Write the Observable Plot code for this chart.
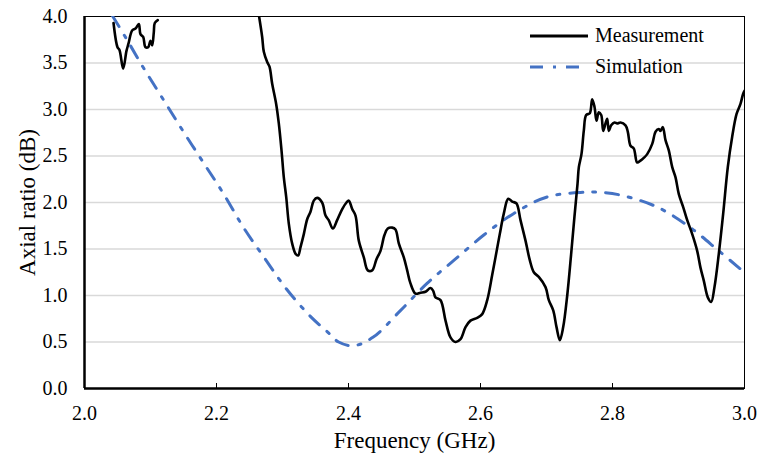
<!DOCTYPE html>
<html>
<head>
<meta charset="utf-8">
<script src="https://cdn.jsdelivr.net/npm/d3@7"></script>
<script src="https://cdn.jsdelivr.net/npm/@observablehq/plot@0.6"></script>
<style>
  body { margin: 0; background: #fff; }
  #wrap { position: relative; width: 757px; height: 458px; font-family: "Liberation Serif", "Times New Roman", serif; }
  #legend { position: absolute; left: 528px; top: 20px; font-size: 20px; color: #000; }
  #legend .row { display: flex; align-items: center; height: 31px; }
  #legend svg { width: 62px; height: 10px; margin-right: 5px; }
</style>
</head>
<body>
<div id="wrap"></div>
<script>
// Frequency (GHz) and axial ratio (dB) of the measured curve (NaN = off-scale gap)
const measFreq = [
  2.044, 2.050, 2.053, 2.0586, 2.0636, 2.0667, 2.0722, 2.0773, 2.0823, 2.0848, 2.0889, 2.0924, 2.0965, 2.100, 2.1026, 2.105, 2.1065, 2.111,
  2.18,
  2.2641, 2.2692, 2.2717, 2.2768, 2.2803, 2.2843, 2.2904, 2.2944, 2.2985, 2.302, 2.3056, 2.3096, 2.3146, 2.3197, 2.3237, 2.3273, 2.3323,
  2.3374, 2.3424, 2.3474, 2.3525, 2.360, 2.3652, 2.370, 2.3763, 2.3828, 2.3905, 2.397, 2.4005, 2.4056, 2.4106, 2.4156, 2.4232, 2.4292,
  2.4359, 2.4424, 2.4485, 2.4545, 2.4595, 2.4662, 2.4712, 2.4762, 2.4838, 2.4889, 2.4939, 2.5015, 2.5091, 2.5167, 2.5242, 2.5283, 2.5318,
  2.5394, 2.547, 2.5545, 2.5621, 2.5697, 2.5773, 2.5848, 2.595, 2.6026, 2.6102, 2.6177, 2.6227, 2.6292, 2.6353, 2.6420, 2.648, 2.6545,
  2.6606, 2.6682, 2.6747, 2.6808, 2.6883, 2.6985, 2.7035, 2.7102, 2.7152, 2.7202, 2.7253, 2.7314, 2.7374, 2.7424, 2.7470, 2.7490, 2.7530,
  2.7565, 2.7601, 2.7656, 2.7692, 2.7727, 2.7758, 2.7792, 2.7829, 2.7859, 2.7894, 2.7920, 2.7944, 2.7980, 2.8030, 2.8071, 2.8121, 2.8197,
  2.8232, 2.8273, 2.8323, 2.8374, 2.8424, 2.8474, 2.8526, 2.8602, 2.8652, 2.8702, 2.8727, 2.8762, 2.8803, 2.8853, 2.8905, 2.8955, 2.9005,
  2.9071, 2.9132, 2.9208, 2.9283, 2.9333, 2.9383, 2.9444, 2.9495, 2.9545, 2.9611, 2.9677, 2.9747, 2.9814, 2.9879, 2.9939, 2.9980, 3.000
];
const measAR = [
  3.93, 3.67, 3.64, 3.44, 3.63, 3.71, 3.85, 3.87, 3.92, 3.81, 3.78, 3.67, 3.67, 3.74, 3.69, 3.83, 3.93, 3.96,
  NaN,
  4.02, 3.78, 3.62, 3.51, 3.46, 3.28, 3.06, 2.85, 2.56, 2.27, 2.06, 1.77, 1.56, 1.45, 1.43, 1.52, 1.66,
  1.82, 1.90, 2.02, 2.05, 2.00, 1.86, 1.81, 1.72, 1.81, 1.93, 2.00, 2.02, 1.93, 1.86, 1.59, 1.41, 1.27,
  1.27, 1.39, 1.48, 1.65, 1.72, 1.73, 1.71, 1.56, 1.41, 1.27, 1.13, 1.02, 1.03, 1.04, 1.08, 1.05, 0.98,
  0.95, 0.73, 0.55, 0.50, 0.53, 0.66, 0.73, 0.76, 0.80, 0.95, 1.22, 1.41, 1.66, 1.88, 2.04, 2.01, 1.99,
  1.81, 1.59, 1.38, 1.25, 1.20, 1.09, 0.95, 0.84, 0.66, 0.52, 0.66, 1.00, 1.45, 1.85, 2.20, 2.38, 2.52,
  2.77, 2.94, 2.96, 3.11, 3.03, 2.88, 2.97, 2.94, 2.77, 2.85, 2.90, 2.77, 2.83, 2.86, 2.85, 2.86, 2.83,
  2.76, 2.61, 2.58, 2.43, 2.45, 2.48, 2.52, 2.63, 2.76, 2.79, 2.77, 2.81, 2.67, 2.56, 2.38, 2.27, 2.09,
  1.95, 1.81, 1.66, 1.48, 1.30, 1.16, 0.98, 0.93, 1.09, 1.45, 1.88, 2.38, 2.71, 2.95, 3.06, 3.17, 3.20
];
// Simulated curve
const simFreq = [2.042, 2.061, 2.090, 2.120, 2.150, 2.181, 2.211, 2.241, 2.273, 2.306, 2.343, 2.368, 2.385, 2.408, 2.437,
  2.479, 2.519, 2.560, 2.605, 2.650, 2.701, 2.757, 2.780, 2.812, 2.868, 2.918, 2.961, 2.993];
const simAR = [4.01, 3.79, 3.44, 3.10, 2.76, 2.42, 2.09, 1.73, 1.40, 1.07, 0.77, 0.61, 0.50, 0.46, 0.55,
  0.84, 1.13, 1.38, 1.65, 1.88, 2.06, 2.11, 2.11, 2.08, 1.95, 1.73, 1.48, 1.29];

const xTicks = [2.0, 2.2, 2.4, 2.6, 2.8, 3.0];
const yTicks = [0.0, 0.5, 1.0, 1.5, 2.0, 2.5, 3.0, 3.5, 4.0];
const seriesNames = ["Measurement", "Simulation"];
const xTitle = "Frequency (GHz)";
const yTitle = "Axial ratio (dB)";

const meas = measFreq.map((f, i) => ({f, v: measAR[i]}));
const sim = simFreq.map((f, i) => ({f, v: simAR[i]}));

const BLUE = "#4472C4";
const DASH = "13,10,3,10";

const chart = Plot.plot({
  width: 757,
  height: 458,
  marginLeft: 84,
  marginRight: 13,
  marginTop: 16,
  marginBottom: 70,
  style: {fontFamily: '"Liberation Serif", "Times New Roman", serif', fontSize: "20px", color: "#000", background: "#fff"},
  x: {domain: [2, 3]},
  y: {domain: [0, 4]},
  marks: [
    Plot.gridY(yTicks.filter(d => d > 0 && d < 4), {stroke: "#d9d9d9", strokeOpacity: 1, strokeWidth: 1.5}),
    Plot.frame({stroke: "#000", strokeWidth: 1}),
    Plot.axisY(yTicks, {tickSize: 0, tickPadding: 17, tickFormat: d3.format(".1f"), label: null, fontSize: 20}),
    Plot.axisX(xTicks, {tickSize: -5, tickPadding: 22, tickFormat: d3.format(".1f"), label: null, fontSize: 20}),
    Plot.line(sim, {x: "f", y: "v", stroke: BLUE, strokeWidth: 3, strokeDasharray: DASH, curve: "catmull-rom", clip: true}),
    Plot.line(meas, {x: "f", y: "v", stroke: "#000", strokeWidth: 2.6, curve: "catmull-rom", clip: true}),
    Plot.ruleX([2], {stroke: "#000", strokeWidth: 2.5}),
    Plot.ruleY([0], {stroke: "#000", strokeWidth: 2.5}),
    Plot.text([xTitle], {frameAnchor: "bottom", dy: 52, fontSize: 23, lineAnchor: "middle", textAnchor: "middle"}),
    Plot.text([yTitle], {frameAnchor: "left", dx: -57, rotate: -90, fontSize: 23, lineAnchor: "middle", textAnchor: "middle"})
  ]
});

const wrap = document.getElementById("wrap");
wrap.appendChild(chart);

const legend = document.createElement("div");
legend.id = "legend";
legend.innerHTML = `
  <div class="row"><svg><line x1="2" x2="60" y1="5" y2="5" stroke="#000" stroke-width="3"/></svg><span>${seriesNames[0]}</span></div>
  <div class="row"><svg><line x1="2" x2="52" y1="5" y2="5" stroke="${BLUE}" stroke-width="3" stroke-dasharray="${DASH}"/></svg><span>${seriesNames[1]}</span></div>`;
wrap.appendChild(legend);
</script>
</body>
</html>
